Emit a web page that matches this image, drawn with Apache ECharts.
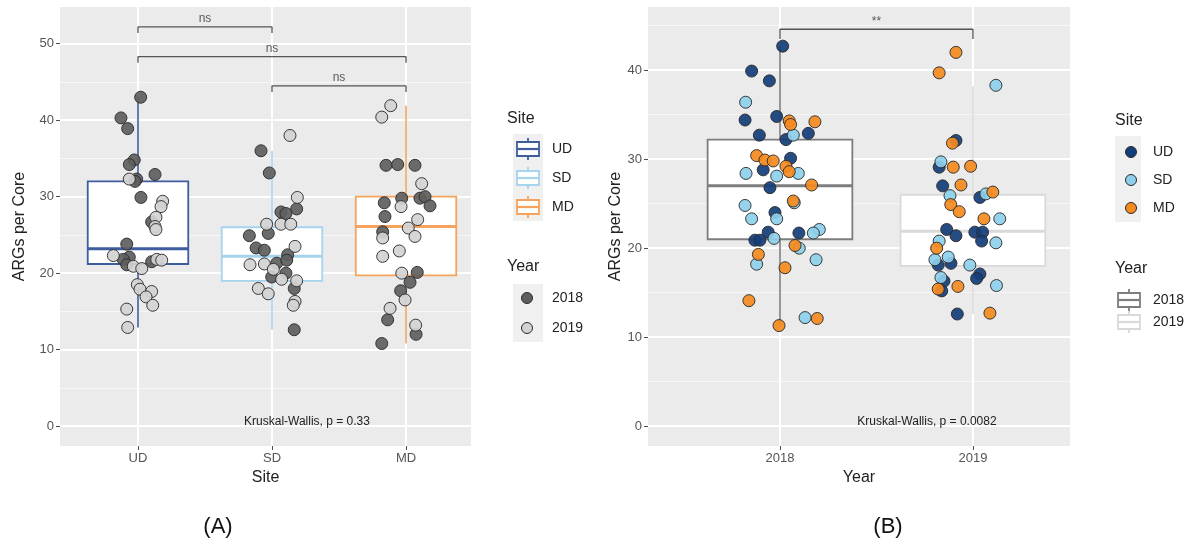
<!DOCTYPE html>
<html>
<head>
<meta charset="utf-8">
<script src="https://cdn.jsdelivr.net/npm/echarts@6/dist/echarts.min.js"></script>
<style>
  html, body { margin: 0; padding: 0; background: #ffffff; }
  #chart { width: 1192px; height: 548px; }
</style>
</head>
<body>
<div id="chart"></div>
<script>
// ---------- data: panel A (ARGs per core by site) ----------
const sitesA = ['UD', 'SD', 'MD'];
// [min, Q1, median, Q3, max] per site
const boxesA = [
  [12.9, 21.2, 23.2, 32.0, 43.0],
  [12.6, 19.0, 22.2, 26.0, 36.0],
  [10.8, 19.7, 26.1, 30.0, 41.9]
];
// jittered points: [site position, ARGs per core]
const ptsA2018 = [
  [0.02, 43.0], [-0.127, 40.3], [-0.077, 38.9], [-0.028, 34.8], [-0.065, 34.2], [-0.01, 32.3],
  [-0.022, 32.0], [0.127, 32.9], [0.022, 29.9], [0.102, 26.7], [-0.084, 23.8], [-0.065, 22.1],
  [-0.11, 21.8], [-0.084, 21.1], [0.102, 21.5],
  [0.918, 36.0], [0.98, 33.1], [1.184, 28.4], [1.067, 28.0], [1.104, 27.8], [0.831, 24.9],
  [0.972, 25.2], [0.881, 23.3], [0.943, 23.0], [1.117, 22.4], [1.035, 21.3], [1.11, 21.7],
  [1.104, 20.0], [0.998, 19.5], [1.166, 18.0], [1.166, 12.6],
  [1.851, 34.1], [1.938, 34.2], [2.067, 34.1], [1.968, 29.8], [2.104, 29.8], [2.142, 30.0],
  [2.179, 28.8], [1.838, 29.2], [1.843, 27.4], [1.826, 25.4], [2.084, 20.1], [2.03, 18.8],
  [1.96, 17.7], [1.863, 13.9], [2.075, 12.0], [1.819, 10.8]
];
const ptsA2019 = [
  [-0.065, 32.3], [0.184, 29.4], [0.172, 28.7], [0.134, 27.3], [0.127, 26.1], [0.134, 25.7],
  [-0.184, 22.3], [-0.035, 20.9], [0.028, 20.6], [0.14, 21.8], [0.177, 21.7], [-0.005, 18.5],
  [0.015, 17.9], [0.102, 17.6], [0.06, 16.9], [0.11, 15.8], [-0.084, 15.3], [-0.077, 12.9],
  [1.134, 38.0], [1.189, 29.9], [1.067, 26.4], [1.14, 26.4], [0.96, 26.4], [1.172, 23.5],
  [0.836, 21.1], [0.943, 21.2], [1.01, 20.5], [1.072, 19.2], [1.184, 19.0], [0.898, 18.0],
  [0.972, 17.3], [1.172, 16.3], [1.159, 15.8],
  [1.886, 41.9], [1.819, 40.4], [2.117, 31.7], [1.963, 28.7], [2.087, 27.0], [2.017, 25.9],
  [2.067, 24.8], [1.826, 24.6], [1.95, 22.9], [1.826, 22.2], [1.968, 20.0], [1.993, 16.5],
  [1.881, 15.4], [2.072, 13.2]
];
// pairwise comparisons: [from, to, bracket height, label]
const compsA = [
  [0, 1, 52.2, 'ns'],
  [0, 2, 48.3, 'ns'],
  [1, 2, 44.5, 'ns']
];
const testA = 'Kruskal-Wallis, p = 0.33';

// ---------- data: panel B (ARGs per core by year) ----------
const yearsB = ['2018', '2019'];
const boxesB = [
  [11.3, 21.0, 27.0, 32.2, 42.7],
  [12.6, 18.0, 21.9, 26.0, 38.2]
];
const ptsB_UD = [
  [0.014, 42.7], [-0.147, 39.9], [-0.055, 38.8], [-0.181, 34.4], [-0.017, 34.8], [-0.107, 32.7],
  [0.147, 32.9], [0.031, 32.2], [0.055, 30.1], [-0.087, 28.8], [-0.052, 26.8], [-0.026, 24.0],
  [-0.061, 21.8], [0.098, 21.7], [-0.13, 20.9], [-0.104, 20.9],
  [0.912, 32.1], [0.825, 29.1], [0.843, 27.0], [1.036, 25.7], [0.864, 22.1], [0.912, 21.4],
  [1.01, 21.8], [1.05, 21.8], [1.045, 20.8], [0.82, 18.1], [0.886, 18.3], [1.036, 17.1],
  [1.019, 16.6], [0.85, 16.3], [0.838, 15.2], [0.919, 12.6]
];
const ptsB_SD = [
  [-0.178, 36.4], [0.069, 32.7], [-0.176, 28.4], [-0.017, 28.1], [0.095, 28.4], [0.074, 25.1],
  [-0.181, 24.8], [-0.017, 23.3], [-0.147, 23.3], [0.204, 22.1], [0.173, 21.7], [-0.031, 21.1],
  [0.1, 20.0], [-0.121, 18.2], [0.187, 18.7], [0.13, 12.2],
  [1.119, 38.3], [0.834, 29.7], [0.881, 25.9], [1.067, 26.1], [1.139, 23.3], [1.119, 20.6],
  [0.825, 20.8], [0.872, 19.0], [0.803, 18.7], [0.984, 18.1], [0.834, 16.7], [1.122, 15.8]
];
const ptsB_MD = [
  [0.048, 34.3], [0.055, 33.9], [0.181, 34.2], [-0.121, 30.4], [-0.078, 29.9], [-0.035, 29.8],
  [0.031, 29.2], [0.048, 28.6], [0.164, 27.1], [0.069, 25.3], [0.078, 20.3], [-0.112, 19.3],
  [0.026, 17.8], [-0.161, 14.1], [0.193, 12.1], [-0.005, 11.3],
  [0.912, 42.0], [0.825, 39.7], [0.894, 31.8], [0.898, 29.1], [0.988, 29.2], [0.938, 27.1],
  [1.103, 26.3], [0.885, 24.9], [0.929, 24.1], [1.057, 23.3], [0.812, 20.0], [0.82, 15.4],
  [0.922, 15.7], [1.088, 12.7]
];
const compsB = [[0, 1, 44.6, '**']];
const testB = 'Kruskal-Wallis, p = 0.0082';

// shared tick values
const majorTicks = [0, 10, 20, 30, 40, 50];
const minorTicks = [5, 15, 25, 35, 45];

// ---------- styling ----------
const FONT = '"Liberation Sans", Arial, Helvetica, sans-serif';
const PANEL_BG = '#EBEBEB';
const siteBoxColors = ['#3d5d9e', '#a6d3ee', '#f5a35e'];
const yearBoxColors = ['#7d7d7d', '#d9d9d9'];
const yearPointColors = ['#5e5e5e', '#d2d2d2'];
const sitePointColors = ['#143d7a', '#8dcfec', '#f58a1f'];
const BOX_WIDTH = 0.75;

function boxRenderer(colors) {
  return function (params, api) {
    const x = api.value(0);
    const lo = api.coord([x, api.value(1)]);
    const q1 = api.coord([x, api.value(2)])[1];
    const med = api.coord([x, api.value(3)])[1];
    const q3 = api.coord([x, api.value(4)])[1];
    const hi = api.coord([x, api.value(5)])[1];
    const cx = lo[0];
    const half = api.size([BOX_WIDTH, 0])[0] / 2;
    const stroke = colors[params.dataIndex];
    return {
      type: 'group',
      children: [
        { type: 'line', shape: { x1: cx, y1: hi, x2: cx, y2: q3 }, style: { stroke, lineWidth: 1.6 } },
        { type: 'line', shape: { x1: cx, y1: q1, x2: cx, y2: lo[1] }, style: { stroke, lineWidth: 1.6 } },
        { type: 'rect', shape: { x: cx - half, y: q3, width: half * 2, height: q1 - q3 },
          style: { fill: '#ffffff', stroke, lineWidth: 1.8 } },
        { type: 'line', shape: { x1: cx - half, y1: med, x2: cx + half, y2: med },
          style: { stroke, lineWidth: 3 } }
      ]
    };
  };
}

function boxSeries(boxes, colors, axisIndex) {
  return {
    type: 'custom',
    xAxisIndex: axisIndex, yAxisIndex: axisIndex * 2,
    renderItem: boxRenderer(colors),
    encode: { x: 0, y: [1, 2, 3, 4, 5] },
    data: boxes.map((b, i) => [i].concat(b)),
    silent: true, z: 2
  };
}

function pointSeries(name, pts, fill, axisIndex) {
  return {
    name, type: 'scatter', xAxisIndex: axisIndex, yAxisIndex: axisIndex * 2,
    data: pts, symbolSize: 12, z: 3, silent: true,
    itemStyle: { color: fill, borderColor: '#2b2b2b', borderWidth: 1, opacity: 0.92 }
  };
}

function bracketSeries(comps, axisIndex, drop) {
  const out = [];
  comps.forEach(c => {
    out.push({
      type: 'line', xAxisIndex: axisIndex, yAxisIndex: axisIndex * 2, silent: true, z: 4,
      symbol: 'none', animation: false,
      lineStyle: { color: '#555555', width: 1.3 },
      data: [[c[0], c[2] - drop], [c[0], c[2]], [c[1], c[2]], [c[1], c[2] - drop]]
    });
  });
  out.push({
    type: 'scatter', xAxisIndex: axisIndex, yAxisIndex: axisIndex * 2, silent: true, z: 4,
    symbolSize: 0,
    data: comps.map(c => ({ value: [(c[0] + c[1]) / 2, c[2]], name: c[3] })),
    label: { show: true, position: 'top', distance: 2, formatter: p => p.name,
             color: '#333333', fontSize: 12, fontFamily: FONT }
  });
  return out;
}

function xAxisDef(grid, min, max, names, title, gap) {
  const idx = names.map((_, i) => i);
  return {
    gridIndex: grid, type: 'value', min, max, position: 'bottom',
    axisLine: { show: false, onZero: false },
    axisTick: { show: true, length: 4, customValues: idx, lineStyle: { color: '#4d4d4d' } },
    axisLabel: { customValues: idx, formatter: v => names[Math.round(v)], color: '#555555',
                 fontSize: 13, margin: 6, fontFamily: FONT },
    splitLine: { show: true, lineStyle: { color: '#ffffff', width: 2 } },
    name: title, nameLocation: 'middle', nameGap: gap,
    nameTextStyle: { fontSize: 16, color: '#222222', fontFamily: FONT }
  };
}

function yAxesDef(grid, min, max, gap) {
  return [{
    gridIndex: grid, type: 'value', min, max, position: 'left',
    axisLine: { show: false, onZero: false },
    axisTick: { show: true, length: 4, customValues: majorTicks, lineStyle: { color: '#4d4d4d' } },
    axisLabel: { customValues: majorTicks, color: '#555555', fontSize: 13, margin: 6, fontFamily: FONT },
    splitLine: { show: true, lineStyle: { color: '#ffffff', width: 2 } },
    name: 'ARGs per Core', nameLocation: 'middle', nameGap: gap,
    nameTextStyle: { fontSize: 16, color: '#222222', fontFamily: FONT }
  }, {
    gridIndex: grid, type: 'value', min, max, position: 'left',
    axisLine: { show: false, onZero: false },
    axisTick: { show: false, customValues: minorTicks },
    axisLabel: { show: false, customValues: minorTicks },
    splitLine: { show: true, lineStyle: { color: '#f7f7f7', width: 1 } }
  }];
}

// ---------- legend drawing helpers ----------
const TOP_Z = 100;
function txt(x, y, text, size, color, align) {
  return { type: 'text', x, y, silent: true, z: TOP_Z,
    style: { text, fontSize: size, fontFamily: FONT, fill: color || '#222222',
             align: align || 'left', verticalAlign: 'middle' } };
}
function boxGlyph(cx, cy, color, w, h, wh) {
  const s = { stroke: color, lineWidth: 1.8, fill: null };
  return { type: 'group', x: cx, y: cy, silent: true, children: [
    { type: 'line', z: TOP_Z, shape: { x1: 0, y1: -wh, x2: 0, y2: -h / 2 }, style: s },
    { type: 'line', z: TOP_Z, shape: { x1: 0, y1: h / 2, x2: 0, y2: wh }, style: s },
    { type: 'rect', z: TOP_Z, shape: { x: -w / 2, y: -h / 2, width: w, height: h },
      style: { stroke: color, lineWidth: 1.8, fill: '#ffffff' } },
    { type: 'line', z: TOP_Z, shape: { x1: -w / 2, y1: 0, x2: w / 2, y2: 0 },
      style: { stroke: color, lineWidth: 2.2 } }
  ] };
}
function dotGlyph(cx, cy, color) {
  return { type: 'circle', x: cx, y: cy, silent: true, z: TOP_Z, shape: { r: 5.5 },
           style: { fill: color, stroke: '#2b2b2b', lineWidth: 1 } };
}
function keyBg(x, y, w, h) {
  return { type: 'rect', silent: true, z: 50, shape: { x, y, width: w, height: h }, style: { fill: '#f0f0f0' } };
}

const graphics = [];
// legend, panel A
graphics.push(txt(507, 119, 'Site', 16));
graphics.push(keyBg(513, 134, 30, 87));
sitesA.forEach((s, i) => {
  const cy = 149 + i * 29;
  graphics.push(boxGlyph(528, cy, siteBoxColors[i], 22, 14, 11));
  graphics.push(txt(552, cy, s, 14));
});
graphics.push(txt(507, 267, 'Year', 16));
graphics.push(keyBg(513, 284, 30, 58));
yearsB.forEach((y, i) => {
  const cy = 298 + i * 30;
  graphics.push(dotGlyph(527, cy, yearPointColors[i]));
  graphics.push(txt(552, cy, y, 14));
});
// legend, panel B
graphics.push(txt(1115, 121, 'Site', 16));
graphics.push(keyBg(1115, 136, 26, 86));
sitesA.forEach((s, i) => {
  const cy = 152 + i * 28;
  graphics.push(dotGlyph(1131, cy, sitePointColors[i]));
  graphics.push(txt(1153, cy, s, 14));
});
graphics.push(txt(1115, 269, 'Year', 16));
yearsB.forEach((y, i) => {
  const cy = 300 + i * 22;
  graphics.push(boxGlyph(1129, cy, yearBoxColors[i], 22, 14, 11));
  graphics.push(txt(1153, cy, y, 14));
});
// test annotations and panel tags
graphics.push(txt(307, 422, testA, 12, '#222222', 'center'));
graphics.push(txt(927, 422, testB, 12, '#222222', 'center'));
graphics.push(txt(218, 527, '(A)', 22, '#111111', 'center'));
graphics.push(txt(888, 527, '(B)', 22, '#111111', 'center'));

const option = {
  animation: false,
  backgroundColor: '#ffffff',
  textStyle: { fontFamily: FONT },
  grid: [
    { left: 60, top: 7, width: 411, height: 439, show: true, backgroundColor: PANEL_BG, borderWidth: 0 },
    { left: 648, top: 7, width: 422, height: 439, show: true, backgroundColor: PANEL_BG, borderWidth: 0 }
  ],
  xAxis: [
    xAxisDef(0, -0.582, 2.485, sitesA, 'Site', 22),
    xAxisDef(1, -0.684, 1.503, yearsB, 'Year', 22)
  ],
  yAxis: [].concat(yAxesDef(0, -2.6, 54.8, 32), yAxesDef(1, -2.23, 47.1, 20)),
  series: [
    boxSeries(boxesA, siteBoxColors, 0),
    pointSeries('2018', ptsA2018, yearPointColors[0], 0),
    pointSeries('2019', ptsA2019, yearPointColors[1], 0),
    ...bracketSeries(compsA, 0, 0.8),
    boxSeries(boxesB, yearBoxColors, 1),
    pointSeries('UD', ptsB_UD, sitePointColors[0], 1),
    pointSeries('SD', ptsB_SD, sitePointColors[1], 1),
    pointSeries('MD', ptsB_MD, sitePointColors[2], 1),
    ...bracketSeries(compsB, 1, 1.1)
  ],
  graphic: graphics
};

const chart = echarts.init(document.getElementById('chart'));
chart.setOption(option);
</script>
</body>
</html>
